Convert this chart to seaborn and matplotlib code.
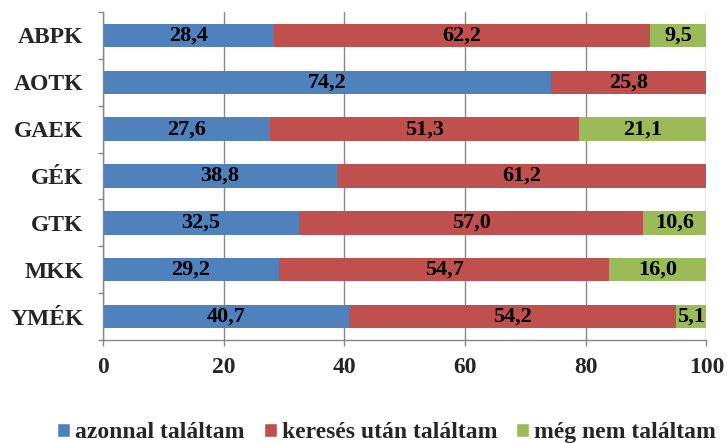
import matplotlib

matplotlib.use("Agg")

import matplotlib.pyplot as plt
import seaborn as sns
import pandas as pd
import numpy as np
from matplotlib.patches import Patch
from matplotlib.ticker import FixedLocator

categories = ["ABPK", "AOTK", "GAEK", "GÉK", "GTK", "MKK", "YMÉK"]
azonnal = [28.4, 74.2, 27.6, 38.8, 32.5, 29.2, 40.7]
kereses_utan = [62.2, 25.8, 51.3, 61.2, 57.0, 54.7, 54.2]
meg_nem = [9.5, 0, 21.1, 0, 10.6, 16.0, 5.1]
series_names = ["azonnal találtam", "keresés után találtam", "még nem találtam"]
colors = ["#4F81BD", "#C0504D", "#9BBB59"]
x_ticks = [0, 20, 40, 60, 80, 100]

sns.set_style("white")
plt.rcParams["font.family"] = ["Liberation Serif", "DejaVu Serif"]
plt.rcParams["font.weight"] = "bold"

gray = "#878787"

df = pd.DataFrame({"kar": categories, "a": azonnal, "k": kereses_utan, "m": meg_nem})
# cumulative ends for the stacked look
df["c1"] = df["a"]
df["c2"] = df["a"] + df["k"]
df["c3"] = df["c2"] + df["m"]

fig = plt.figure(figsize=(7.27, 4.43), dpi=100)
ax = fig.add_axes([0.1417, 0.2325, 0.8301, 0.7404])

# draw longest first, shorter ones on top
for col, color in zip(["c3", "c2", "c1"], colors[::-1]):
    sns.barplot(data=df, x=col, y="kar", color=color, saturation=1,
                width=0.5, linewidth=0, ax=ax)

# value labels in the middle of each segment
for i, row in df.iterrows():
    left = 0
    for val in [row["a"], row["k"], row["m"]]:
        if val > 0:
            ax.text(left + val / 2, i, f"{val:.1f}".replace(".", ","),
                    ha="center", va="center", fontsize=16, fontweight="bold",
                    color="black")
        left += val

ax.set_xlim(0, 100)
ax.set_ylim(6.5, -0.5)
ax.set_xticks(x_ticks)
ax.set_xlabel("")
ax.set_ylabel("")
ax.set_axisbelow(True)
ax.xaxis.grid(True, color=gray, linewidth=1)
ax.yaxis.grid(False)

for side in ["top", "right"]:
    ax.spines[side].set_visible(False)
for side in ["left", "bottom"]:
    ax.spines[side].set_color(gray)
    ax.spines[side].set_linewidth(1)

ax.yaxis.set_minor_locator(FixedLocator(np.arange(-0.5, 7, 1)))
ax.tick_params(axis="y", which="major", left=True, length=0, pad=14, labelsize=17)
ax.tick_params(axis="y", which="minor", left=True, length=3.6, width=1, color=gray)
ax.tick_params(axis="x", which="major", bottom=True, length=4.3, width=1,
               color=gray, pad=8, labelsize=17)

handles = [Patch(facecolor=c, label=n) for c, n in zip(colors, series_names)]
fig.legend(handles=handles, loc="center", bbox_to_anchor=(0.532, 0.023), ncol=3,
           frameon=False, fontsize=17, handlelength=0.55, handleheight=0.55,
           handletextpad=0.22, columnspacing=0.8, borderpad=0)

fig.savefig("out.png", dpi=100)
plt.close(fig)
